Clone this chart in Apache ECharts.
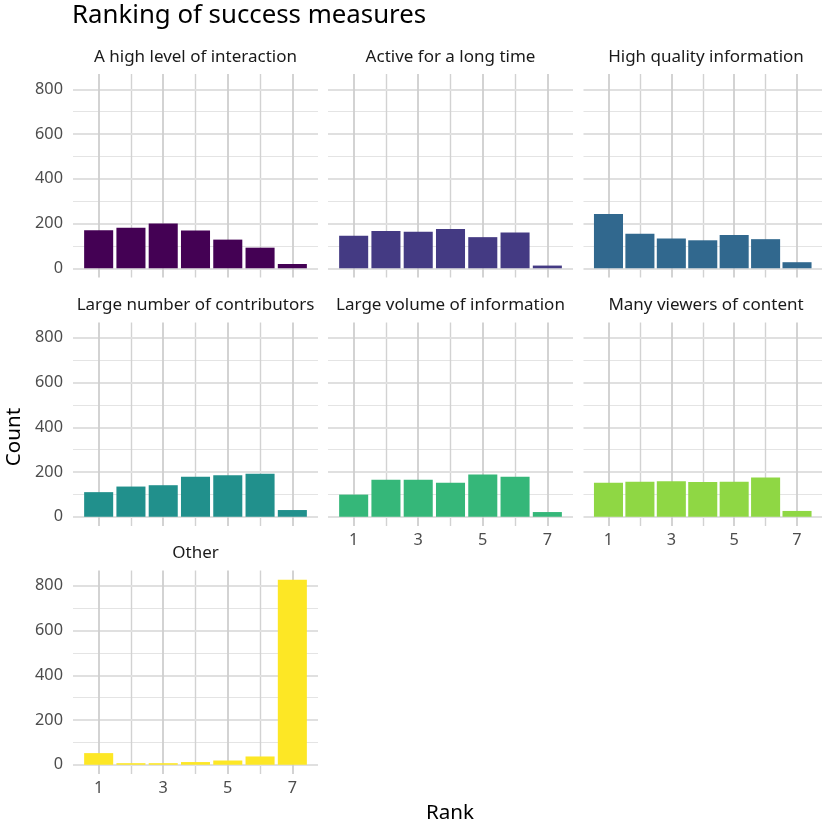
<!DOCTYPE html>
<html><head><meta charset="utf-8">
<script src="https://cdn.jsdelivr.net/npm/echarts@6/dist/echarts.min.js"></script>
<style>html,body{margin:0;padding:0;background:#fff}#c{width:822px;height:826px}</style>
</head><body><div id="c"></div>
<script>
// ---- data ----
const facetNames = ['A high level of interaction','Active for a long time','High quality information',
  'Large number of contributors','Large volume of information','Many viewers of content','Other'];
const ranks = [1,2,3,4,5,6,7];
const interaction = [170,181,200,169,128,92,19];
const longTime = [145,167,163,175,139,160,12];
const quality = [242,154,133,125,149,130,27];
const contributors = [110,135,141,179,185,192,30];
const volume = [99,165,165,152,189,179,21];
const viewers = [152,156,159,155,156,176,26];
const other = [52,7,7,12,19,37,827];
const facetValues = [interaction,longTime,quality,contributors,volume,viewers,other];
const colors = ['#440154','#443A83','#31688E','#21908C','#35B779','#8FD744','#FDE725'];
const yMajor = [0,200,400,600,800];
const yMinor = [100,300,500,700];
const xMajor = [1,3,5,7];
const xMinor = [2,4,6];

// ---- layout ----
const FONT = 'Noto Sans';
const colLeft = [73, 328, 583.5];
const rowTop = [74, 322.5, 570.5];
const W = 245, H = 203.5;
const allMax = Math.max(...facetValues.flat());
const yMin = -0.05*allMax, yMax = allMax*1.05;
const xMin = 0.55 - 0.05*6.9, xMax = 7.45 + 0.05*6.9;
const barW = 0.9 * W / (xMax - xMin);

const grids=[], xAxes=[], yAxes=[], series=[], graphics=[];
facetNames.forEach((name, i) => {
  const r = Math.floor(i/3), c = i%3;
  const L = colLeft[c], T = rowTop[r];
  grids.push({left:L, top:T, width:W, height:H, containLabel:false});
  const showX = (i >= 4);
  const showY = (c === 0);
  xAxes.push({type:'value', gridIndex:i, min:xMin, max:xMax, minInterval:1, maxInterval:1,
    axisLine:{show:false}, axisTick:{show:false}, splitLine:{show:false},
    axisLabel:{show:showX, showMinLabel:false, showMaxLabel:false, margin:6,
      color:'#4d4d4d', fontSize:16.3, fontFamily:FONT,
      formatter: v => xMajor.includes(v) ? String(v) : ''}});
  yAxes.push({type:'value', gridIndex:i, min:yMin, max:yMax, minInterval:200, maxInterval:200,
    axisLine:{show:false}, axisTick:{show:false}, splitLine:{show:false},
    axisLabel:{show:showY, showMinLabel:false, showMaxLabel:false, margin:10,
      color:'#4d4d4d', fontSize:16.3, fontFamily:FONT,
      formatter: v => yMajor.includes(v) ? String(Math.round(v)) : ''}});
  const ml = [];
  yMinor.forEach(v => ml.push({yAxis:v, lineStyle:{color:'#e4e4e4', width:1.2, type:'solid'}}));
  xMinor.forEach(v => ml.push({xAxis:v, lineStyle:{color:'#d2d2d2', width:1.4, type:'solid'}}));
  yMajor.forEach(v => ml.push({yAxis:v, lineStyle:{color:'#e0e0e0', width:2, type:'solid'}}));
  xMajor.forEach(v => ml.push({xAxis:v, lineStyle:{color:'#cfcfcf', width:1.8, type:'solid'}}));
  series.push({type:'bar', xAxisIndex:i, yAxisIndex:i, barWidth:barW, z:2,
    itemStyle:{color:colors[i]},
    data: ranks.map((rk, j) => [rk, facetValues[i][j]]),
    markLine:{silent:true, symbol:['none','none'], z:1, animation:false,
      label:{show:false}, emphasis:{disabled:true}, data: ml}});
  graphics.push({type:'text', style:{text:name, x:L+W/2, y:T-17, textAlign:'center',
    textVerticalAlign:'middle', font:`17px "${FONT}"`, fill:'#1a1a1a'}});
});
graphics.push({type:'text', style:{text:'Ranking of success measures', x:72, y:15.5,
  textAlign:'left', textVerticalAlign:'middle', font:`25.8px "${FONT}"`, fill:'#000'}});
graphics.push({type:'text', style:{text:'Rank', x:450, y:813, textAlign:'center',
  textVerticalAlign:'middle', font:`20.6px "${FONT}"`, fill:'#000'}});
graphics.push({type:'text', rotation:Math.PI/2, x:14, y:437, style:{text:'Count', x:0, y:0,
  textAlign:'center', textVerticalAlign:'middle', font:`20.6px "${FONT}"`, fill:'#000'}});

const chart = echarts.init(document.getElementById('c'), null, {renderer:'canvas'});
chart.setOption({animation:false, backgroundColor:'#fff',
  grid:grids, xAxis:xAxes, yAxis:yAxes, series:series, graphic:graphics});
</script></body></html>
